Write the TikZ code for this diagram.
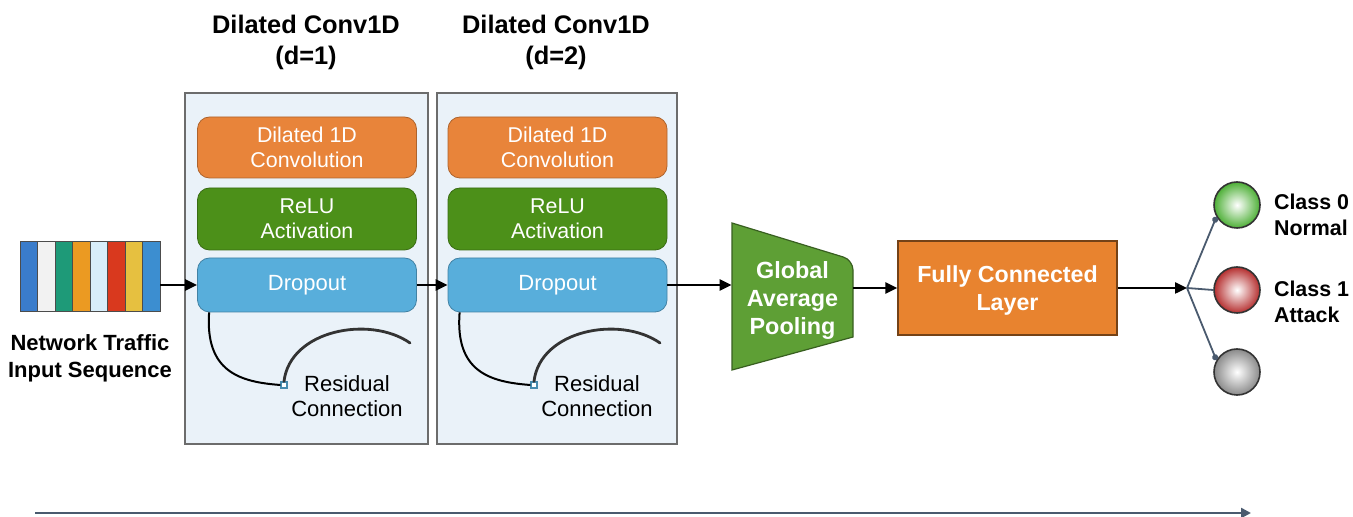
\documentclass[tikz,border=0pt]{standalone}
\usepackage{fontspec}
\setmainfont{Liberation Sans}
\usetikzlibrary{arrows.meta}
\definecolor{blockbg}{HTML}{EAF2F9}
\definecolor{convor}{HTML}{E8843A}
\definecolor{relugr}{HTML}{4C9019}
\definecolor{dropbl}{HTML}{58AEDB}
\definecolor{gapgr}{HTML}{5E9F35}
\definecolor{fcor}{HTML}{E8832F}
\definecolor{slate}{HTML}{4A5A6E}
\definecolor{ballgr}{HTML}{4DAF36}
\definecolor{ballrd}{HTML}{B52F2F}
\definecolor{ballgy}{HTML}{8A8A8A}
\begin{document}
\begin{tikzpicture}[x=0.5pt,y=-0.5pt,
    title/.style={font=\bfseries\fontsize{12.7}{15.5}\selectfont,align=center},
    lbl/.style={font=\bfseries\fontsize{11}{13.5}\selectfont,align=center},
    blockbox/.style={draw=gray!85!black,line width=0.8pt,fill=blockbg,minimum height=175.5pt},
    layer/.style={draw=#1!75!black,fill=#1,rounded corners=6pt,minimum width=109.5pt,
      text=white,align=center,font=\fontsize{10.7}{12.5}\selectfont},
    flow/.style={line width=1.2pt,-{Triangle[length=6pt,width=5.5pt]}},
    sq/.style={draw=dropbl!80!black,fill=white,line width=0.6pt,minimum size=3pt,inner sep=0pt},
    restxt/.style={font=\fontsize{11}{12.5}\selectfont,align=center},
    ball/.style={circle,draw=black!80,line width=0.8pt,minimum size=23pt,inner sep=0pt,
      shading=radial,inner color=white,outer color=#1},
    fan/.style={slate,line width=0.9pt},
    cls/.style={font=\bfseries\fontsize{10.7}{13}\selectfont,align=left,anchor=west}]
  \useasboundingbox (0,0) rectangle (1353,517);

  % input sequence
  \node[minimum width=70pt,minimum height=35pt,inner sep=0pt] (in) at (90,277) {};
  \foreach \c [count=\i from 0] in {3A7CCB,F2F2F2,1E9A78,EB9A22,D8EEFA,D9391E,E6C040,3C8ED0}{
    \definecolor{barcol}{HTML}{\c}
    \fill[fill=barcol,draw=black!70,line width=0.5pt] (20+17.5*\i,242) rectangle (37.5+17.5*\i,312);
  }
  \node[lbl] (inlbl) at (90,358) {Network Traffic\\Input Sequence};

  % dilated blocks
  \node[title] (t1) at (306,42) {Dilated Conv1D\\(d=1)};
  \node[title] (t2) at (556,42) {Dilated Conv1D\\(d=2)};
  \node[blockbox,minimum width=121.5pt] (blk1) at (306.5,268.5) {};
  \node[blockbox,minimum width=120pt] (blk2) at (557,268.5) {};

  \node[layer=convor,minimum height=30.5pt] (conv1) at (307,147.5) {Dilated 1D\\Convolution};
  \node[layer=relugr,minimum height=31pt] (relu1) at (307,219) {ReLU\\Activation};
  \node[layer=dropbl,minimum height=27pt,font=\fontsize{11}{12.5}\selectfont] (drop1) at (307,285) {Dropout};
  \node[layer=convor,minimum height=30.5pt] (conv2) at (557.5,147.5) {Dilated 1D\\Convolution};
  \node[layer=relugr,minimum height=31pt] (relu2) at (557.5,219) {ReLU\\Activation};
  \node[layer=dropbl,minimum height=27pt,font=\fontsize{11}{12.5}\selectfont] (drop2) at (557.5,285) {Dropout};

  % residual connections
  \node[sq] (res1) at (284,385) {};
  \coordinate (res1e) at (410,343);
  \draw[line width=1pt] ([xshift=6pt]drop1.south west) .. controls (205,372) and (240,382) .. (res1.west);
  \draw[gray!40!black,line width=1.4pt,line cap=round] (res1.north) .. controls (290,330) and (370,315) .. (res1e);
  \node[restxt] (rt1) at (347,396) {Residual\\Connection};
  \node[sq] (res2) at (534,385) {};
  \coordinate (res2e) at (660,343);
  \draw[line width=1pt] ([xshift=6pt]drop2.south west) .. controls (455,372) and (490,382) .. (res2.west);
  \draw[gray!40!black,line width=1.4pt,line cap=round] (res2.north) .. controls (540,330) and (620,315) .. (res2e);
  \node[restxt] (rt2) at (597,396) {Residual\\Connection};

  % pooling and dense layer
  \draw[draw=gapgr!60!black,fill=gapgr,line width=0.6pt] (732,223) [rounded corners=5pt]-- (853,260) [sharp corners]-- (853,337) -- (732,370) -- cycle;
  \node[minimum width=60.5pt,minimum height=73.5pt,inner sep=0pt,text=white,align=center,
    font=\bfseries\fontsize{11.7}{14}\selectfont] (gap) at (792.5,301) {Global\\Average\\Pooling};
  \node[draw=fcor!50!black,fill=fcor,line width=0.6pt,minimum width=109.5pt,minimum height=47pt,
    text=white,align=center,font=\bfseries\fontsize{11.6}{14}\selectfont,
    text depth=0pt] (fc) at (1007.5,288) {Fully Connected\\Layer};

  % outputs
  \coordinate (sp) at (1187,288);
  \node[ball=ballgr] (c0) at (1237,205) {};
  \node[ball=ballrd] (c1) at (1237,290) {};
  \node[ball=ballgy] (c2) at (1237,372) {};
  \node[cls] (l0) at (1267,215) {Class 0\\Normal};
  \node[cls] (l1) at (1267,302) {Class 1\\Attack};

  \draw[flow] (drop1.west -| in.east) -- (drop1.west);
  \draw[flow] (drop1.east) -- (drop2.west);
  \draw[flow] (drop2.east) -- (drop2.east -| gap.west);
  \draw[flow] (gap.east |- fc.west) -- (fc.west);
  \draw[flow] (fc.east) -- (sp);
  \draw[fan,-{Circle[length=3pt]}] (sp) -- (c0.210);
  \draw[fan] (sp) -- (c1.west);
  \draw[fan,-{Circle[length=3pt]}] (sp) -- (c2.150);

  % time axis
  \coordinate (ax0) at (35,513);
  \coordinate (ax1) at (1251,513);
  \draw[slate,line width=1.2pt,-{Triangle[length=5pt,width=5pt]}] (ax0) -- (ax1);
\end{tikzpicture}
\end{document}
